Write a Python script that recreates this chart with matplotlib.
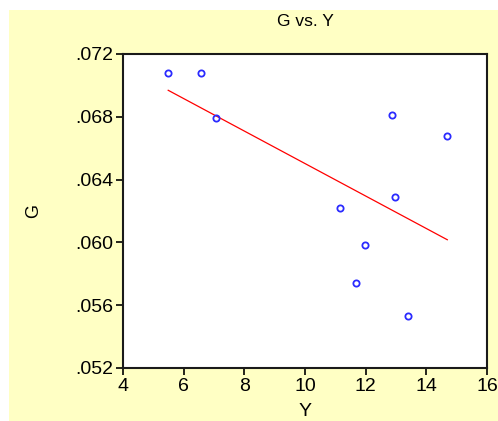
import matplotlib
matplotlib.use('Agg')
import matplotlib.pyplot as plt
from matplotlib.patches import Rectangle
from matplotlib.ticker import FuncFormatter
import numpy as np

plt.rcParams['font.family'] = ['Liberation Sans', 'DejaVu Sans']

# data
y_vals = [5.49, 6.58, 7.07, 12.87, 14.69, 12.98, 11.15, 11.99, 11.68, 13.39]
g_vals = [0.0708, 0.0708, 0.0679, 0.0681, 0.0668, 0.0629, 0.0622, 0.0598, 0.0574, 0.0553]
x_ticks = [4, 6, 8, 10, 12, 14, 16]
y_ticks = [0.052, 0.056, 0.060, 0.064, 0.068, 0.072]

fig = plt.figure(figsize=(4.98, 4.21), dpi=100)
fig.patches.append(Rectangle((9 / 498, 0), 1, 1 - 10 / 421, transform=fig.transFigure,
                             facecolor='#FFFFC4', edgecolor='none', zorder=-10))

ax = fig.add_axes([0.247, 0.126, 0.731, 0.746])
ax.set_facecolor('white')

# fitted regression line
coef = np.polyfit(y_vals, g_vals, 1)
xs = np.array([min(y_vals), max(y_vals)])
ax.plot(xs, np.polyval(coef, xs), color='#FF0000', linewidth=0.9)

ax.plot(y_vals, g_vals, linestyle='none', marker='o', markersize=4.5,
        markerfacecolor='none', markeredgecolor='#2B2BFF', markeredgewidth=1.3)

ax.set_xlim(4, 16)
ax.set_ylim(0.052, 0.072)
ax.set_xticks(x_ticks)
ax.set_yticks(y_ticks)
ax.yaxis.set_major_formatter(FuncFormatter(lambda v, p: ('%.3f' % v).lstrip('0')))
ax.tick_params(direction='out', length=5, width=1.2, labelsize=14, colors='black', pad=2)

for s in ax.spines.values():
    s.set_linewidth(1.5)
    s.set_color('#1a1a1a')

ax.set_title('G vs. Y', fontsize=12.5, pad=20)
ax.set_xlabel('Y', fontsize=14, labelpad=6)
ax.set_ylabel('G', fontsize=13, labelpad=24)

plt.savefig('out.png', dpi=100)
